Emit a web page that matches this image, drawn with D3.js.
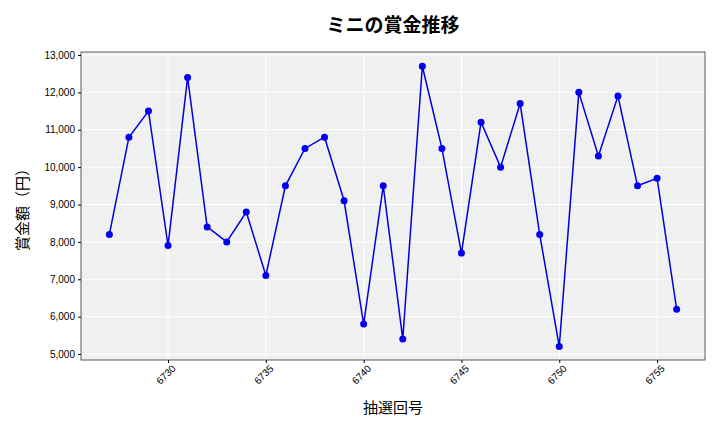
<!DOCTYPE html>
<html><head><meta charset="utf-8">
<script src="https://cdn.jsdelivr.net/npm/d3@7"></script>
<style>body{margin:0;background:#fff;font-family:"Noto Sans CJK JP","Noto Sans",sans-serif;}</style>
</head><body><svg id="c" width="720" height="432"></svg>
<script>
// draws: round number and prize amount
var draws = d3.range(6727, 6757);
var prizes = [8200, 10800, 11500, 7900, 12400, 8400, 8000, 8800, 7100, 9500,
    10500, 10800, 9100, 5800, 9500, 5400, 12700, 10500, 7700, 11200,
    10000, 11700, 8200, 5200, 12000, 10300, 11900, 9500, 9700, 6200];
var xTicks = [6730, 6735, 6740, 6745, 6750, 6755];
var yTicks = d3.range(5000, 13001, 1000);

var svg = d3.select('#c');
var pLeft = 81, pRight = 705, pTop = 52, pBottom = 360;

var x = d3.scaleLinear().domain([6725.55, 6757.45]).range([pLeft, pRight]);
var y = d3.scaleLinear().domain([4840, 13080]).range([pBottom, pTop]);

svg.append('rect').attr('x', pLeft).attr('y', pTop)
    .attr('width', pRight - pLeft).attr('height', pBottom - pTop).attr('fill', '#f0f0f0');

// grid
svg.append('g').selectAll('line').data(yTicks).enter().append('line')
    .attr('x1', pLeft).attr('x2', pRight)
    .attr('y1', function (d) { return y(d); }).attr('y2', function (d) { return y(d); })
    .attr('stroke', '#fff').attr('stroke-width', 1);
svg.append('g').selectAll('line').data(xTicks).enter().append('line')
    .attr('y1', pTop).attr('y2', pBottom)
    .attr('x1', function (d) { return x(d); }).attr('x2', function (d) { return x(d); })
    .attr('stroke', '#fff').attr('stroke-width', 1);

svg.append('rect').attr('x', pLeft).attr('y', pTop)
    .attr('width', pRight - pLeft).attr('height', pBottom - pTop)
    .attr('fill', 'none').attr('stroke', '#333').attr('stroke-width', 0.8);

var yAxis = svg.append('g').attr('transform', 'translate(' + pLeft + ',0)')
    .call(d3.axisLeft(y).tickValues(yTicks).tickFormat(d3.format(',')).tickSize(3));
yAxis.select('.domain').remove();
yAxis.selectAll('text').attr('font-size', 10).attr('fill', '#000');

var xAxis = svg.append('g').attr('transform', 'translate(0,' + pBottom + ')')
    .call(d3.axisBottom(x).tickValues(xTicks).tickFormat(d3.format('d')).tickSize(3));
xAxis.select('.domain').remove();
xAxis.selectAll('text').attr('font-size', 10).attr('fill', '#000')
    .attr('text-anchor', 'end').attr('dx', '-0.1em').attr('dy', '0.6em')
    .attr('transform', 'rotate(-45)');

var line = d3.line().x(function (d, i) { return x(draws[i]); }).y(function (d) { return y(d); });
svg.append('path').datum(prizes).attr('d', line)
    .attr('fill', 'none').attr('stroke', '#0000dd').attr('stroke-width', 1.5);
svg.append('g').selectAll('circle').data(prizes).enter().append('circle')
    .attr('cx', function (d, i) { return x(draws[i]); })
    .attr('cy', function (d) { return y(d); })
    .attr('r', 3.5).attr('fill', '#0000ee');

svg.append('text').attr('x', 393).attr('y', 32).attr('text-anchor', 'middle')
    .attr('font-size', 19).attr('font-weight', 'bold').text('ミニの賞金推移');
svg.append('text').attr('x', 393).attr('y', 413).attr('text-anchor', 'middle')
    .attr('font-size', 15).text('抽選回号');
svg.append('text').attr('transform', 'translate(28,206) rotate(-90)').attr('text-anchor', 'middle')
    .attr('font-size', 15).text('賞金額（円）');
</script></body></html>
